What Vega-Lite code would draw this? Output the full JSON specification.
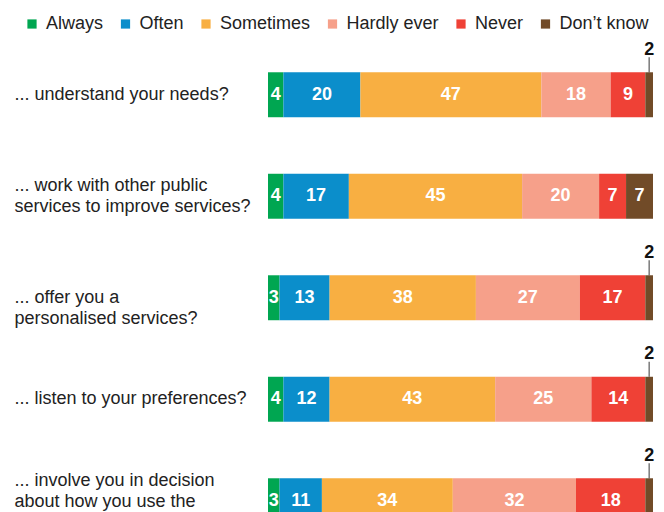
{
  "$schema": "https://vega.github.io/schema/vega-lite/v6.json",
  "autosize": "none",
  "padding": {"left": 268, "top": 44, "right": 11, "bottom": 0},
  "width": 385,
  "height": 507.5,
  "config": {"view": {"stroke": null}, "font": "Liberation Sans"},
  "data": {"values": [
    {"q": "... understand your needs?", "cat": "Always", "value": 4},
    {"q": "... understand your needs?", "cat": "Often", "value": 20},
    {"q": "... understand your needs?", "cat": "Sometimes", "value": 47},
    {"q": "... understand your needs?", "cat": "Hardly ever", "value": 18},
    {"q": "... understand your needs?", "cat": "Never", "value": 9},
    {"q": "... understand your needs?", "cat": "Don’t know", "value": 2},
    {"q": "... work with other public|services to improve services?", "cat": "Always", "value": 4},
    {"q": "... work with other public|services to improve services?", "cat": "Often", "value": 17},
    {"q": "... work with other public|services to improve services?", "cat": "Sometimes", "value": 45},
    {"q": "... work with other public|services to improve services?", "cat": "Hardly ever", "value": 20},
    {"q": "... work with other public|services to improve services?", "cat": "Never", "value": 7},
    {"q": "... work with other public|services to improve services?", "cat": "Don’t know", "value": 7},
    {"q": "... offer you a|personalised services?", "cat": "Always", "value": 3},
    {"q": "... offer you a|personalised services?", "cat": "Often", "value": 13},
    {"q": "... offer you a|personalised services?", "cat": "Sometimes", "value": 38},
    {"q": "... offer you a|personalised services?", "cat": "Hardly ever", "value": 27},
    {"q": "... offer you a|personalised services?", "cat": "Never", "value": 17},
    {"q": "... offer you a|personalised services?", "cat": "Don’t know", "value": 2},
    {"q": "... listen to your preferences?", "cat": "Always", "value": 4},
    {"q": "... listen to your preferences?", "cat": "Often", "value": 12},
    {"q": "... listen to your preferences?", "cat": "Sometimes", "value": 43},
    {"q": "... listen to your preferences?", "cat": "Hardly ever", "value": 25},
    {"q": "... listen to your preferences?", "cat": "Never", "value": 14},
    {"q": "... listen to your preferences?", "cat": "Don’t know", "value": 2},
    {"q": "... involve you in decision|about how you use the|services?", "cat": "Always", "value": 3},
    {"q": "... involve you in decision|about how you use the|services?", "cat": "Often", "value": 11},
    {"q": "... involve you in decision|about how you use the|services?", "cat": "Sometimes", "value": 34},
    {"q": "... involve you in decision|about how you use the|services?", "cat": "Hardly ever", "value": 32},
    {"q": "... involve you in decision|about how you use the|services?", "cat": "Never", "value": 18},
    {"q": "... involve you in decision|about how you use the|services?", "cat": "Don’t know", "value": 2}
  ]},
  "transform": [
    {"calculate": "indexof(['Always','Often','Sometimes','Hardly ever','Never','Don’t know'], datum.cat)", "as": "ord"},
    {"stack": "value", "groupby": ["q"], "sort": [{"field": "ord", "order": "ascending"}], "as": ["x0", "x1"]},
    {"calculate": "(datum.x0 + datum.x1) / 2", "as": "mid"}
  ],
  "encoding": {
    "y": {
      "field": "q", "type": "nominal", "title": null,
      "sort": ["... understand your needs?", "... work with other public|services to improve services?", "... offer you a|personalised services?", "... listen to your preferences?", "... involve you in decision|about how you use the|services?"],
      "scale": {"paddingInner": 0.557, "paddingOuter": 0.2785},
      "axis": {
        "labelExpr": "split(datum.value, '|')",
        "labelAlign": "left", "labelPadding": 254, "ticks": false, "tickSize": 0, "domain": false,
        "labelFontSize": 18, "labelColor": "#222222", "labelFont": "Liberation Sans",
        "labelLimit": 300, "labelLineHeight": 21,
        "labelOffset": {"condition": [
          {"test": "indexof(datum.value, 'public') >= 0", "value": -10},
          {"test": "indexof(datum.value, 'involve') >= 0", "value": -20}
        ], "value": 0}
      }
    }
  },
  "layer": [
    {
      "mark": {"type": "bar"},
      "encoding": {
        "x": {"field": "x0", "type": "quantitative", "scale": {"domain": [0, 100], "nice": false}, "axis": null},
        "x2": {"field": "x1"},
        "color": {
          "field": "cat", "type": "nominal",
          "scale": {
            "domain": ["Always", "Often", "Sometimes", "Hardly ever", "Never", "Don’t know"],
            "range": ["#00a651", "#0b8ecb", "#f8af42", "#f6a08a", "#ef4136", "#714b28"]
          },
          "legend": {
            "orient": "none", "legendX": -245, "legendY": -29, "direction": "horizontal",
            "title": null, "symbolType": "square", "symbolSize": 85, "symbolStrokeWidth": 0,
            "labelFontSize": 18, "labelFont": "Liberation Sans", "labelColor": "#222222",
            "labelOffset": 5, "columnPadding": 12.5, "labelLimit": 200
          }
        }
      }
    },
    {
      "transform": [{"filter": "datum.value > 2"}],
      "mark": {"type": "text", "color": "white", "fontWeight": "bold", "fontSize": 18, "align": "center", "baseline": "middle", "font": "Liberation Sans"},
      "encoding": {
        "x": {"field": "mid", "type": "quantitative"},
        "text": {"field": "value", "type": "quantitative"}
      }
    },
    {
      "transform": [{"filter": "datum.value <= 2"}],
      "mark": {"type": "text", "color": "#111111", "fontWeight": "bold", "fontSize": 18, "align": "center", "baseline": "middle", "dy": -45, "font": "Liberation Sans"},
      "encoding": {
        "x": {"field": "mid", "type": "quantitative"},
        "text": {"field": "value", "type": "quantitative"}
      }
    },
    {
      "transform": [{"filter": "datum.value <= 2"}],
      "mark": {"type": "tick", "orient": "vertical", "size": 15, "thickness": 1.2, "color": "#111111", "yOffset": -30},
      "encoding": {
        "x": {"field": "mid", "type": "quantitative"}
      }
    }
  ]
}
